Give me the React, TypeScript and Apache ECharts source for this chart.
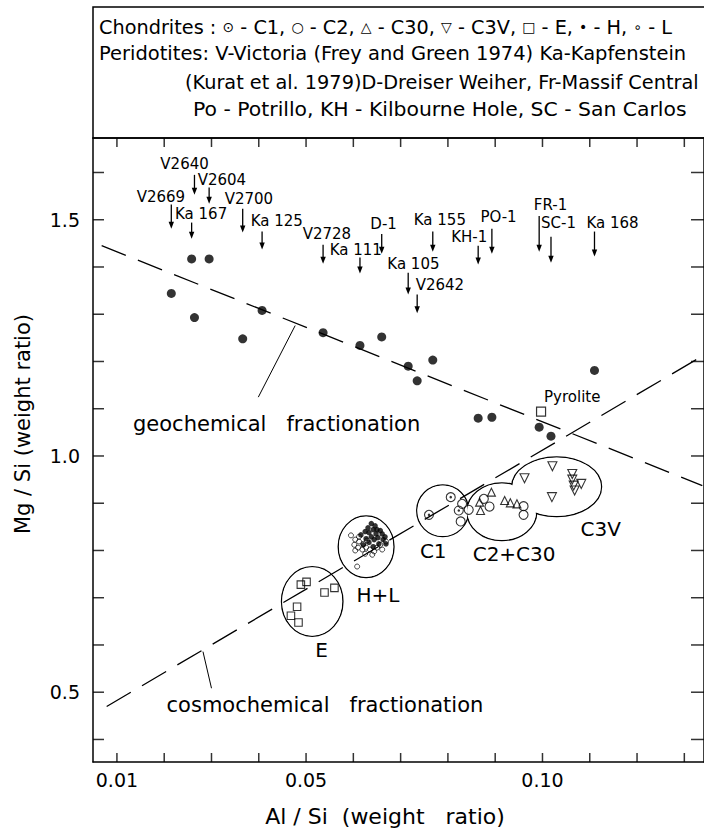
import React, { useEffect, useRef } from 'react';
import * as echarts from 'echarts';

// ---------- axis ticks ----------
const xTickValues = [0.01, 0.02, 0.03, 0.04, 0.05, 0.06, 0.07, 0.08, 0.09, 0.1, 0.11, 0.12, 0.13];
const xLabelValues = [0.01, 0.05, 0.1];
const yTickValues = [0.4, 0.5, 0.6, 0.7, 0.8, 0.9, 1.0, 1.1, 1.2, 1.3, 1.4, 1.5, 1.6];
const yLabelValues = [0.5, 1.0, 1.5];

// ---------- peridotites (filled circles with labelled arrows) ----------
const peridotiteNames = ['V2669', 'Ka 167', 'V2604', 'V2640', 'V2700', 'Ka 125', 'V2728', 'Ka 111', 'D-1', 'Ka 105', 'V2642', 'Ka 155', 'KH-1', 'PO-1', 'FR-1', 'SC-1', 'Ka 168'];
const peridotiteAl = [0.0215, 0.0258, 0.0295, 0.0264, 0.0366, 0.0407, 0.0536, 0.0614, 0.066, 0.0716, 0.0735, 0.0768, 0.0864, 0.0893, 0.0993, 0.1018, 0.111];
const peridotiteMg = [1.344, 1.417, 1.417, 1.293, 1.248, 1.308, 1.261, 1.234, 1.252, 1.19, 1.159, 1.203, 1.08, 1.082, 1.061, 1.042, 1.181];
const arrowTopMg = [1.532, 1.494, 1.568, 1.595, 1.523, 1.475, 1.447, 1.42, 1.47, 1.388, 1.342, 1.475, 1.445, 1.481, 1.508, 1.464, 1.475];
const arrowTipMg = [1.481, 1.46, 1.534, 1.553, 1.473, 1.437, 1.407, 1.386, 1.428, 1.342, 1.302, 1.432, 1.405, 1.428, 1.432, 1.409, 1.422];
const labelAl = [0.0193, 0.0278, 0.0322, 0.0243, 0.0379, 0.0438, 0.0544, 0.0605, 0.0664, 0.0727, 0.0783, 0.0783, 0.0845, 0.0907, 0.1017, 0.1034, 0.1148];
const labelMg = [1.549, 1.513, 1.584, 1.618, 1.544, 1.498, 1.47, 1.437, 1.492, 1.407, 1.361, 1.499, 1.464, 1.506, 1.532, 1.494, 1.494];

const pyroliteAl = [0.0997];
const pyroliteMg = [1.094];

// ---------- chondrites ----------
const c1Al = [0.076, 0.0806, 0.0823];
const c1Mg = [0.8755, 0.9129, 0.8846];
const c2Al = [0.083, 0.0844, 0.0827, 0.0876, 0.0888, 0.096, 0.096];
const c2Mg = [0.8987, 0.8861, 0.8614, 0.9093, 0.893, 0.8938, 0.8755];
const c30Al = [0.0892, 0.0867, 0.0869, 0.092, 0.0932, 0.0946];
const c30Mg = [0.9234, 0.9023, 0.8846, 0.9057, 0.9008, 0.8987];
const c3vAl = [0.1021, 0.0962, 0.1063, 0.1063, 0.1082, 0.1066, 0.1068, 0.102];
const c3vMg = [0.9783, 0.953, 0.962, 0.95, 0.9409, 0.9373, 0.9268, 0.9129];
const eAl = [0.0489, 0.0501, 0.0539, 0.056, 0.0481, 0.0468, 0.0484];
const eMg = [0.7278, 0.7335, 0.711, 0.7209, 0.6808, 0.6618, 0.6477];
const hAl = [0.0638, 0.0646, 0.0631, 0.065, 0.0642, 0.0657, 0.0625, 0.0633, 0.0648, 0.0661, 0.0667, 0.0616, 0.0638, 0.0652, 0.0627, 0.0644, 0.0663, 0.0633, 0.0654, 0.0621, 0.0669, 0.0642];
const hMg = [0.857, 0.852, 0.848, 0.844, 0.844, 0.842, 0.84, 0.838, 0.835, 0.835, 0.829, 0.833, 0.829, 0.827, 0.825, 0.823, 0.823, 0.817, 0.814, 0.812, 0.814, 0.808];
const lAl = [0.0595, 0.0604, 0.0612, 0.0621, 0.0629, 0.0602, 0.061, 0.0619, 0.0627, 0.0635, 0.0644, 0.0612, 0.065, 0.0661, 0.0604, 0.0625, 0.064, 0.0657, 0.0669, 0.0608];
const lMg = [0.832, 0.823, 0.819, 0.814, 0.821, 0.812, 0.806, 0.802, 0.806, 0.802, 0.798, 0.829, 0.806, 0.802, 0.8, 0.793, 0.791, 0.812, 0.819, 0.766];

// ---------- cluster outlines ----------
const clusterNames = ['E', 'H+L', 'C1', 'C2+C30', 'C3V'];
const clusterAl = [0.0513, 0.0627, 0.0789, 0.0914, 0.103];
const clusterMg = [0.692, 0.808, 0.884, 0.882, 0.935];
const clusterHalfAl = [0.0065, 0.0059, 0.0055, 0.0074, 0.0095];
const clusterHalfMg = [0.0738, 0.0654, 0.0549, 0.0612, 0.0633];
const clusterLabelAl = [0.0533, 0.0652, 0.0769, 0.094, 0.1123];
const clusterLabelMg = [0.589, 0.705, 0.798, 0.793, 0.846];

// ---------- fractionation trends ----------
const geochemicalLine = [[0.00677, 1.4451], [0.1338, 0.9373]];
const cosmochemicalLine = [[0.00783, 0.4698], [0.1338, 1.2114]];
const geochemicalLeader = [[0.0477, 1.276], [0.0399, 1.1245]];
const cosmochemicalLeader = [[0.0282, 0.5859], [0.03, 0.5084]];
const trendLabels = ['geochemical   fractionation', 'cosmochemical   fractionation'];
const trendLabelAl = [0.0134, 0.0205];
const trendLabelMg = [1.0675, 0.4726];

const legendLines = [
  'Chondrites : {s|⊙} - C1, {s|○} - C2, {s|△} - C30, {s|▽} - C3V, {s|□} - E, {s|•} - H, {s|∘} - L',
  'Peridotites: V-Victoria (Frey and Green 1974) Ka-Kapfenstein',
  '(Kurat et al. 1979)D-Dreiser Weiher, Fr-Massif Central',
  'Po - Potrillo, KH - Kilbourne Hole, SC - San Carlos',
];

const FONT = 'DejaVu Sans';
const X_MIN = 0.00494;
const X_MAX = 0.13416;
const Y_MIN = 0.3523;
const Y_MAX = 1.673;

const zip = (a: number[], b: number[]) => a.map((v, i) => [v, b[i]]);

export default function App() {
  const ref = useRef<HTMLDivElement>(null);
  useEffect(() => {
    if (!ref.current) return;
    const chart = echarts.init(ref.current, undefined, { renderer: 'svg' });

    const openItem = { color: 'rgba(0,0,0,0)', borderColor: '#000', borderWidth: 1.1 };
    const scatter = (name: string, data: number[][], symbol: string, size: any, itemStyle: any, extra: any = {}) => ({
      name, type: 'scatter', data, symbol, symbolSize: size, itemStyle, z: 4, silent: true, ...extra,
    });

    const ellipseData = clusterAl.map((v, i) => [v, clusterMg[i], clusterHalfAl[i], clusterHalfMg[i]]);
    const ellipseRender = (shrink: number, stroke: boolean) => (params: any, api: any) => {
      const c = api.coord([api.value(0), api.value(1)]);
      const s = api.size([api.value(2), api.value(3)]);
      return {
        type: 'ellipse',
        shape: { cx: c[0], cy: c[1], rx: s[0] - shrink, ry: s[1] - shrink },
        style: stroke ? { fill: '#fff', stroke: '#000', lineWidth: 1.3 } : { fill: '#fff' },
      };
    };

    const arrowData = peridotiteAl.map((v, i) => [v, arrowTopMg[i], arrowTipMg[i], labelAl[i], labelMg[i]]);

    const baseAxis = {
      type: 'value',
      axisLine: { show: true, onZero: false, lineStyle: { color: '#000', width: 1.5 } },
      axisTick: { show: false },
      splitLine: { show: false },
    };

    const legendGraphics: any[] = [
      { type: 'rect', shape: { x: 93, y: 7, width: 620, height: 131 }, style: { fill: 'none', stroke: '#000', lineWidth: 1.5 }, z: 10 },
      {
        type: 'text', x: 99, y: 27, scaleX: 1.0, z: 10,
        style: { text: legendLines[0], fontSize: 19.3, fontFamily: FONT, fill: '#000', align: 'left', verticalAlign: 'middle',
          rich: { s: { fontSize: 14, fontFamily: FONT, fill: '#000' } } },
      },
      { type: 'text', x: 99, y: 54, scaleX: 1.01, z: 10, style: { text: legendLines[1], fontSize: 19.3, fontFamily: FONT, fill: '#000', align: 'left', verticalAlign: 'middle' } },
      { type: 'text', x: 185, y: 82, z: 10, style: { text: legendLines[2], fontSize: 19.3, fontFamily: FONT, fill: '#000', align: 'left', verticalAlign: 'middle' } },
      { type: 'text', x: 193, y: 110, scaleX: 1.055, z: 10, style: { text: legendLines[3], fontSize: 19.3, fontFamily: FONT, fill: '#000', align: 'left', verticalAlign: 'middle' } },
    ];

    const tickItem = { color: '#000' };
    const option: any = {
      animation: false,
      textStyle: { fontFamily: FONT, color: '#000' },
      grid: { left: 93, top: 138, right: -2, bottom: 68, containLabel: false },
      xAxis: [
        {
          ...baseAxis, position: 'bottom', min: X_MIN, max: X_MAX,
          axisLabel: { show: true, customValues: xLabelValues, formatter: (v: number) => v.toFixed(2), color: '#000', fontSize: 19, fontFamily: FONT, margin: 8 },
          name: 'Al / Si  (weight   ratio)', nameLocation: 'middle', nameGap: 43,
          nameTextStyle: { fontSize: 22, fontFamily: FONT, color: '#000', padding: [0, 27, 0, 0] },
        },
        { ...baseAxis, position: 'top', min: X_MIN, max: X_MAX, axisLabel: { show: false } },
      ],
      yAxis: [
        {
          ...baseAxis, position: 'left', min: Y_MIN, max: Y_MAX,
          axisLabel: { show: true, customValues: yLabelValues, formatter: (v: number) => v.toFixed(1), color: '#000', fontSize: 19, fontFamily: FONT, margin: 13 },
          name: 'Mg / Si (weight ratio)', nameLocation: 'middle', nameGap: 60,
          nameTextStyle: { fontSize: 21, fontFamily: FONT, color: '#000', padding: [0, 0, 0, 52] },
        },
        { ...baseAxis, position: 'right', min: Y_MIN, max: Y_MAX, axisLabel: { show: false } },
      ],
      graphic: legendGraphics,
      series: [
        // tick marks, inward on all four sides
        scatter('ticks bottom', xTickValues.map((v) => [v, Y_MIN]), 'rect', [1.5, 9], tickItem, { symbolOffset: [0, -4.5], clip: false, z: 7 }),
        scatter('ticks top', xTickValues.map((v) => [v, Y_MAX]), 'rect', [1.5, 9], tickItem, { symbolOffset: [0, 4.5], clip: false, z: 7 }),
        scatter('ticks left', yTickValues.map((v) => [X_MIN, v]), 'rect', [11, 1.5], tickItem, { symbolOffset: [5.5, 0], clip: false, z: 7 }),
        scatter('ticks right', yTickValues.map((v) => [X_MAX, v]), 'rect', [13, 1.5], tickItem, { symbolOffset: [-6.5, 0], clip: false, z: 7 }),
        {
          name: 'outlines', type: 'custom', z: 1, silent: true, data: ellipseData,
          encode: { x: 0, y: 1 }, renderItem: ellipseRender(0, true),
        },
        {
          name: 'outlineFill', type: 'custom', z: 2, silent: true, data: ellipseData,
          encode: { x: 0, y: 1 }, renderItem: ellipseRender(0.9, false),
        },
        {
          name: 'geochemical fractionation', type: 'line', z: 3, silent: true, data: geochemicalLine, symbol: 'none',
          lineStyle: { color: '#000', width: 1.3, type: [26, 13] },
        },
        {
          name: 'cosmochemical fractionation', type: 'line', z: 3, silent: true, data: cosmochemicalLine, symbol: 'none',
          lineStyle: { color: '#000', width: 1.3, type: [28, 13] },
        },
        { name: 'geoLeader', type: 'line', z: 3, silent: true, data: geochemicalLeader, symbol: 'none', lineStyle: { color: '#000', width: 1 } },
        { name: 'cosmoLeader', type: 'line', z: 3, silent: true, data: cosmochemicalLeader, symbol: 'none', lineStyle: { color: '#000', width: 1 } },
        scatter('Peridotites', zip(peridotiteAl, peridotiteMg), 'circle', 9, { color: '#000' }),
        scatter('Pyrolite', zip(pyroliteAl, pyroliteMg), 'rect', 9, { color: '#fff', borderColor: '#000', borderWidth: 1.2 }),
        scatter('E', zip(eAl, eMg), 'rect', 7.5, openItem),
        scatter('L', zip(lAl, lMg), 'circle', 5, { color: 'rgba(0,0,0,0)', borderColor: '#000', borderWidth: 0.9 }),
        scatter('H', zip(hAl, hMg), 'circle', 5.5, { color: '#000' }),
        scatter('C1', zip(c1Al, c1Mg), 'circle', 9, openItem),
        scatter('C1 dot', zip(c1Al, c1Mg), 'circle', 2.5, { color: '#000' }),
        scatter('C2', zip(c2Al, c2Mg), 'circle', 9, openItem),
        scatter('C30', zip(c30Al, c30Mg), 'triangle', 8, openItem),
        scatter('C3V', zip(c3vAl, c3vMg), 'triangle', 9, openItem, { symbolRotate: 180 }),
        {
          name: 'arrows', type: 'custom', z: 5, silent: true, data: arrowData, encode: { x: 0, y: 1 },
          renderItem: (params: any, api: any) => {
            const top = api.coord([api.value(0), api.value(1)]);
            const tip = api.coord([api.value(0), api.value(2)]);
            const lab = api.coord([api.value(3), api.value(4)]);
            return {
              type: 'group',
              children: [
                { type: 'line', shape: { x1: top[0], y1: top[1], x2: tip[0], y2: tip[1] - 5 }, style: { stroke: '#000', lineWidth: 1.3 } },
                { type: 'polygon', shape: { points: [[tip[0] - 2.7, tip[1] - 7], [tip[0] + 2.7, tip[1] - 7], [tip[0], tip[1]]] }, style: { fill: '#000' } },
                { type: 'text', x: lab[0], y: lab[1], style: { text: peridotiteNames[params.dataIndex], fontSize: 15, fontFamily: FONT, fill: '#000', align: 'center', verticalAlign: 'middle' } },
              ],
            };
          },
        },
        {
          name: 'clusterLabels', type: 'custom', z: 6, silent: true, data: zip(clusterLabelAl, clusterLabelMg), encode: { x: 0, y: 1 },
          renderItem: (params: any, api: any) => {
            const p = api.coord([api.value(0), api.value(1)]);
            return { type: 'text', x: p[0], y: p[1], style: { text: clusterNames[params.dataIndex], fontSize: 20, fontFamily: FONT, fill: '#000', align: 'center', verticalAlign: 'middle' } };
          },
        },
        {
          name: 'trendLabels', type: 'custom', z: 6, silent: true, data: zip(trendLabelAl, trendLabelMg), encode: { x: 0, y: 1 },
          renderItem: (params: any, api: any) => {
            const p = api.coord([api.value(0), api.value(1)]);
            return { type: 'text', x: p[0], y: p[1], style: { text: trendLabels[params.dataIndex], fontSize: 21, fontFamily: FONT, fill: '#000', align: 'left', verticalAlign: 'middle' } };
          },
        },
        {
          name: 'pyroliteLabel', type: 'custom', z: 6, silent: true, data: zip(pyroliteAl, pyroliteMg), encode: { x: 0, y: 1 },
          renderItem: (params: any, api: any) => {
            const p = api.coord([api.value(0), api.value(1)]);
            return { type: 'text', x: p[0] + 3, y: p[1] - 15, style: { text: 'Pyrolite', fontSize: 15, fontFamily: FONT, fill: '#000', align: 'left', verticalAlign: 'middle' } };
          },
        },
      ],
    };
    chart.setOption(option);
    return () => chart.dispose();
  }, []);
  return <div ref={ref} style={{ position: 'fixed', left: 0, top: 0, width: 704, height: 832, background: '#fff' }} />;
}
